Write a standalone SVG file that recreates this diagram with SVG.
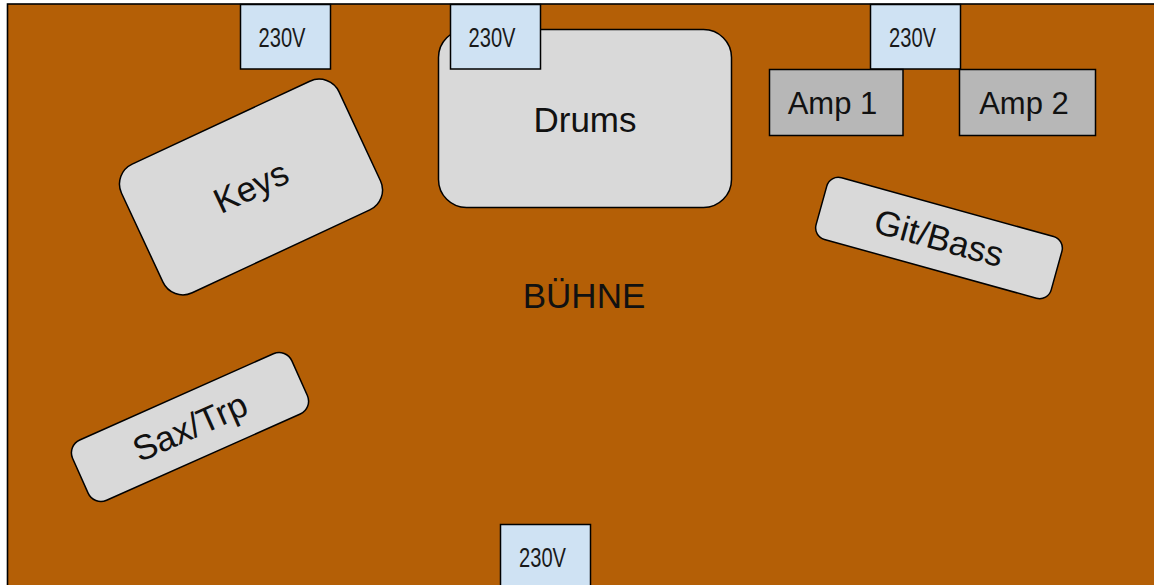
<svg xmlns="http://www.w3.org/2000/svg" width="1154" height="585" viewBox="0 0 1154 585">
<style>
.stage{fill:#B45F06;stroke:#000;stroke-width:1.6}
.outlet{fill:#CFE2F3;stroke:#000;stroke-width:1.5}
.inst{fill:#D9D9D9;stroke:#000;stroke-width:1.5}
.amp{fill:#B7B7B7;stroke:#000;stroke-width:1.5}
text{font-family:"Liberation Sans",Arial,sans-serif;fill:#000;text-anchor:middle}
.v{font-size:27px;fill:#1a1a1a}
.lbl{font-size:35px;fill:#111}
.alb{font-size:31px;fill:#111}
</style>
<rect width="1154" height="585" fill="#fff"/>
<g id="stage">
<rect class="stage" x="7.5" y="4" width="1170" height="600"/>
<text class="lbl" x="584" y="308" fill="#1a0d00">BÜHNE</text>
</g>
<g id="drums">
<rect class="inst" x="438.5" y="29.5" width="293" height="178" rx="28"/>
<text class="lbl" x="585" y="132">Drums</text>
</g>
<g id="outlet1">
<rect class="outlet" x="240.5" y="4.5" width="90" height="64.5"/>
<text class="v" x="282" y="46.5" textLength="47" lengthAdjust="spacingAndGlyphs">230V</text>
</g>
<g id="outlet2">
<rect class="outlet" x="450.5" y="4.5" width="90" height="64.5"/>
<text class="v" x="492" y="46.5" textLength="47" lengthAdjust="spacingAndGlyphs">230V</text>
</g>
<g id="outlet3">
<rect class="outlet" x="870.5" y="4.5" width="90" height="64.5"/>
<text class="v" x="912.5" y="46.5" textLength="47" lengthAdjust="spacingAndGlyphs">230V</text>
</g>
<g id="outlet4">
<rect class="outlet" x="500.5" y="524.5" width="90" height="70"/>
<text class="v" x="542.5" y="566.5" textLength="47" lengthAdjust="spacingAndGlyphs">230V</text>
</g>
<g id="amp1">
<rect class="amp" x="769.5" y="69.5" width="133.5" height="66"/>
<text class="alb" x="832.5" y="113.5">Amp 1</text>
</g>
<g id="amp2">
<rect class="amp" x="959.5" y="69.5" width="136" height="66"/>
<text class="alb" x="1024" y="113.5">Amp 2</text>
</g>
<g id="keys" transform="translate(251,187) rotate(-25)">
<rect class="inst" x="-120" y="-71" width="240" height="142" rx="22"/>
<text class="lbl" x="0" y="12">Keys</text>
</g>
<g id="gitbass" transform="translate(939,238) rotate(15.5)">
<rect class="inst" x="-122" y="-32" width="244" height="64" rx="12"/>
<text class="lbl" x="0" y="12">Git/Bass</text>
</g>
<g id="saxtrp" transform="translate(190,427) rotate(-24)">
<rect class="inst" x="-120" y="-33" width="240" height="66" rx="14"/>
<text class="lbl" x="0" y="12">Sax/Trp</text>
</g>
</svg>
